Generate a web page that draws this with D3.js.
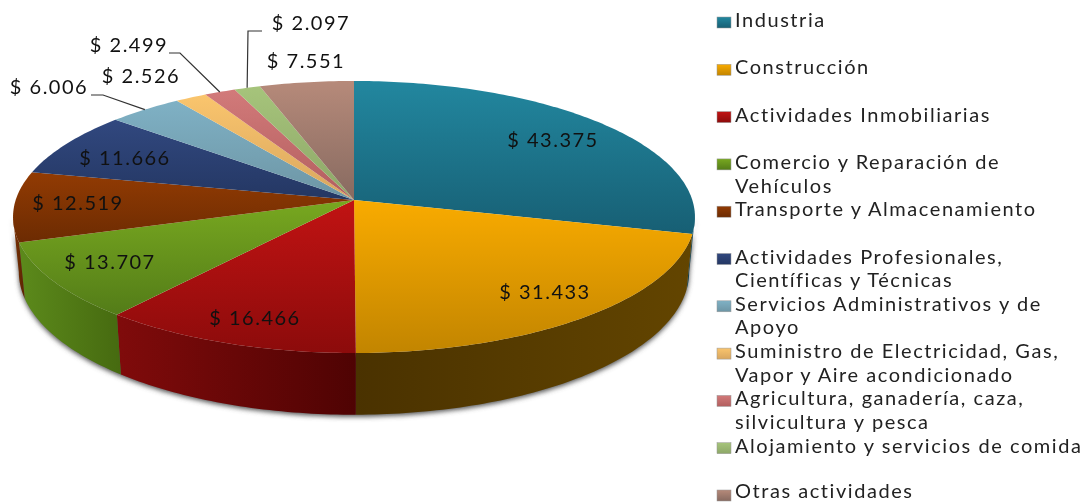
<!DOCTYPE html>
<html>
<head>
<meta charset="utf-8">
<script src="https://cdn.jsdelivr.net/npm/d3@7/dist/d3.min.js"></script>
<style>
  html, body { margin: 0; padding: 0; background: #fff; }
  svg { display: block; }
  text { font-family: Lato, "Open Sans", sans-serif; fill: #111; }
  .value { font-size: 20px; letter-spacing: 1.5px; text-anchor: middle; }
  .legend { font-size: 20px; letter-spacing: 1.55px; fill: #222; }
</style>
</head>
<body>
<div id="chart"></div>
<script>
// Values as printed on the chart
var categories = ["Industria", "Construcción", "Actividades Inmobiliarias", "Comercio y Reparación de Vehículos",
  "Transporte y Almacenamiento", "Actividades Profesionales, Científicas y Técnicas", "Servicios Administrativos y de Apoyo",
  "Suministro de Electricidad, Gas, Vapor y Aire acondicionado", "Agricultura, ganadería, caza, silvicultura y pesca",
  "Alojamiento y servicios de comida", "Otras actividades"];
var values = [43375, 31433, 16466, 13707, 12519, 11666, 6006, 2526, 2499, 2097, 7551];

// Legend text, broken the way the legend breaks it
var legendLines = [["Industria"], ["Construcción"], ["Actividades Inmobiliarias"], ["Comercio y Reparación de", "Vehículos"],
  ["Transporte y Almacenamiento"], ["Actividades Profesionales,", "Científicas y Técnicas"], ["Servicios Administrativos y de", "Apoyo"],
  ["Suministro de Electricidad, Gas,", "Vapor y Aire acondicionado"], ["Agricultura, ganadería, caza,", "silvicultura y pesca"],
  ["Alojamiento y servicios de comida"], ["Otras actividades"]];

// Slice colours, light and dark end of each gradient
var topLight = ["#22879f", "#f9ab00", "#c11313", "#78a820", "#923b03", "#31487f", "#7fb1c5", "#fac56d", "#d27a7a", "#a6c47b", "#b68a7a"];
var topDark = ["#175f74", "#c28500", "#8c0b0b", "#537c18", "#6c2b02", "#243763", "#6d95a4", "#d8a65f", "#b25e5e", "#8da768", "#876a60"];
var wallLight = ["#174f60", "#634500", "#800b0b", "#5c8a1b", "#7a3003", "#243763", "#6d95a4", "#d8a65f", "#b25e5e", "#8da768", "#876a60"];
var wallDark = ["#103a47", "#4a3200", "#4f0303", "#466a10", "#5b2402", "#243763", "#6d95a4", "#d8a65f", "#b25e5e", "#8da768", "#876a60"];

// Data label placement (label centre) and the leader lines' elbows
var labelAt = [[553, 141], [545, 293], [255, 319], [110, 263], [78, 204], [125, 159], [49, 88], [141, 77], [129, 46], [311, 24], [306, 62]];
var leaderFrom = {6: [[91, 95], [103, 95]], 8: [[169, 53], [180, 53]], 9: [[262, 31], [248, 31]]};

var width = 1089, height = 502;

// Tilted disc: apex of the slices in screen space, and the perspective of the tilt
var cx = 354, cy = 200, rx = 338.3, ry = 133.9, persp = 0.125;
var depth = 54, baseShrink = 0.983;
var wallFrom = 97.2 * Math.PI / 180, wallTo = 262.8 * Math.PI / 180;

function project(angle, r) {
  var u = Math.sin(angle) * r, v = -Math.cos(angle) * r;
  var k = 1 / (1 - persp * v);
  return [cx + rx * u * k, cy + ry * v * k];
}

function projectBase(angle) {
  var p = project(angle, 1);
  var v = -Math.cos(angle);
  return [cx + (p[0] - cx) * baseShrink, p[1] + depth / (1 - persp * v)];
}

function arcAngles(a0, a1) {
  var n = Math.max(2, Math.ceil((a1 - a0) * 60));
  return d3.range(n + 1).map(function(i) { return a0 + (a1 - a0) * i / n; });
}

var svg = d3.select("#chart").append("svg")
  .attr("width", width)
  .attr("height", height)
  .style("filter", "blur(0.45px)");

var defs = svg.append("defs");
var line = d3.line();
var money = d3.formatLocale({decimal: ",", thousands: ".", grouping: [3], currency: ["$ ", ""]}).format("$,");

defs.append("filter").attr("id", "shadow")
  .attr("x", "-5%").attr("y", "-5%").attr("width", "110%").attr("height", "110%")
  .append("feGaussianBlur").attr("stdDeviation", 2.5);

categories.forEach(function(c, i) {
  var top = defs.append("linearGradient").attr("id", "top" + i).attr("x1", 0).attr("y1", 0).attr("x2", 0).attr("y2", 1);
  top.append("stop").attr("offset", 0).attr("stop-color", topLight[i]);
  top.append("stop").attr("offset", 1).attr("stop-color", topDark[i]);
  // the wall darkens towards the front of the disc
  var wall = defs.append("linearGradient").attr("id", "wall" + i).attr("x1", 0).attr("y1", 0).attr("x2", 1).attr("y2", 0);
  var leftSide = i >= 2;
  wall.append("stop").attr("offset", 0).attr("stop-color", leftSide ? wallLight[i] : wallDark[i]);
  wall.append("stop").attr("offset", 1).attr("stop-color", leftSide ? wallDark[i] : wallLight[i]);
});

var slices = d3.pie().sort(null).value(function(d) { return d; })(values);

// Soft shadow under the disc
var rimAngles = arcAngles(wallFrom, wallTo);
svg.append("path")
  .attr("d", line(rimAngles.map(function(a) { return project(a, 1); })
    .concat(rimAngles.slice().reverse().map(projectBase))) + "Z")
  .attr("transform", "translate(0,2)")
  .attr("fill", "#555")
  .attr("filter", "url(#shadow)");

// Side walls of the slices that face the viewer
svg.append("g").selectAll("path")
  .data(slices.filter(function(d) { return d.endAngle > wallFrom && d.startAngle < wallTo; }))
  .enter()
  .append("path")
  .attr("d", function(d) {
    var angles = arcAngles(Math.max(d.startAngle, wallFrom), Math.min(d.endAngle, wallTo));
    return line(angles.map(function(a) { return project(a, 1); })
      .concat(angles.slice().reverse().map(projectBase))) + "Z";
  })
  .attr("fill", function(d) { return "url(#wall" + d.index + ")"; });

// Top of the disc
svg.append("g").selectAll("path")
  .data(slices)
  .enter()
  .append("path")
  .attr("d", function(d) {
    var pts = arcAngles(d.startAngle, d.endAngle).map(function(a) { return project(a, 1); });
    return line([[cx, cy]].concat(pts)) + "Z";
  })
  .attr("fill", function(d) { return "url(#top" + d.index + ")"; });

// Leader lines run from the label elbow to the rim at the slice's middle
svg.append("g").selectAll("path")
  .data(slices.filter(function(d) { return leaderFrom[d.index]; }))
  .enter()
  .append("path")
  .attr("d", function(d) {
    return line(leaderFrom[d.index].concat([project((d.startAngle + d.endAngle) / 2, 1)]));
  })
  .attr("fill", "none")
  .attr("stroke", "#333")
  .attr("stroke-width", 1.2);

svg.append("g").selectAll("text")
  .data(values)
  .enter()
  .append("text")
  .attr("class", "value")
  .attr("x", function(d, i) { return labelAt[i][0]; })
  .attr("y", function(d, i) { return labelAt[i][1] + 6; })
  .text(function(d) { return money(d); });

// Legend
var legendY = d3.scaleLinear().domain([0, categories.length - 1]).range([22, 495]);

var legend = svg.append("g").selectAll("g")
  .data(categories)
  .enter()
  .append("g")
  .attr("transform", function(d, i) { return "translate(717," + legendY(i) + ")"; });

legend.append("rect")
  .attr("x", 0)
  .attr("y", -5)
  .attr("width", 14)
  .attr("height", 11)
  .attr("fill", function(d, i) { return "url(#top" + i + ")"; })
  .attr("stroke", "#999")
  .attr("stroke-width", 0.5);

legend.selectAll("text")
  .data(function(d, i) {
    return legendLines[i].map(function(t, j) { return {text: t, line: j, row: i}; });
  })
  .enter()
  .append("text")
  .attr("class", "legend")
  .attr("x", 18)
  // last row would run off the page, keep its descender room inside
  .attr("y", function(d) { return Math.min(d.line * 23.7 + 5, height - 4.5 - legendY(d.row)); })
  .text(function(d) { return d.text; });
</script>
</body>
</html>
